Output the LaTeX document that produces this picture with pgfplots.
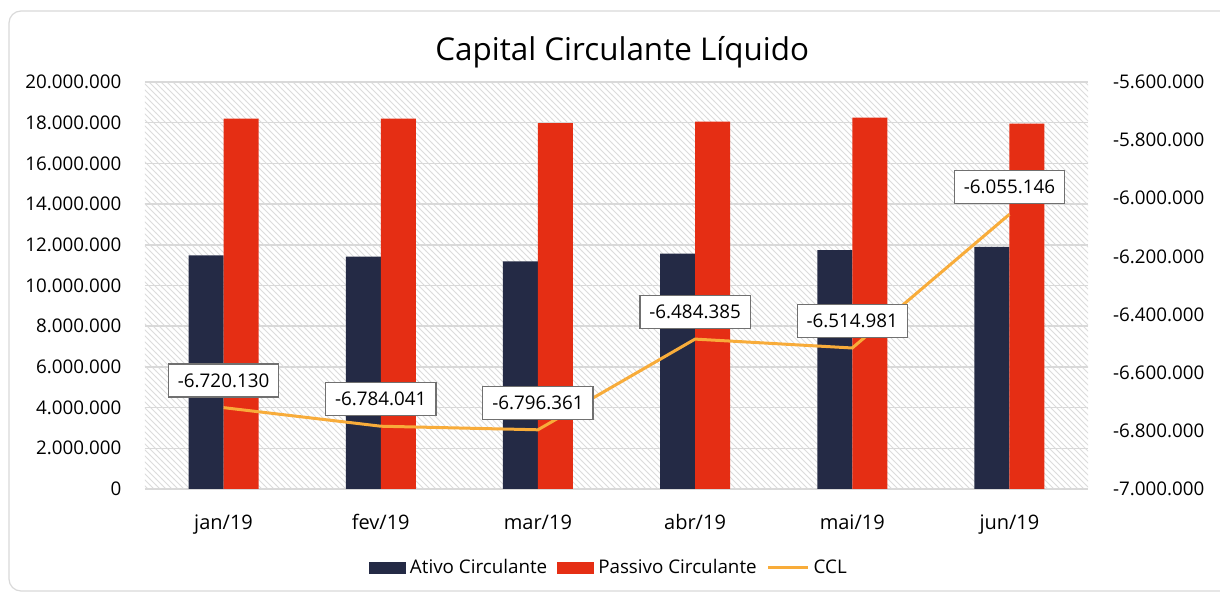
\documentclass[border=0pt]{standalone}
\usepackage{pgfplots}
\pgfplotsset{compat=1.18}
\usetikzlibrary{patterns}
\usepackage{fontspec}
\setmainfont{Open Sans}
\definecolor{ativo}{HTML}{242A45}
\definecolor{passivo}{HTML}{E52E14}
\definecolor{ccl}{HTML}{F8AC3A}
\definecolor{gridc}{HTML}{D9D9D9}
\definecolor{hatch}{HTML}{DCDCDC}
\definecolor{boxc}{HTML}{707070}
\newcommand{\tickfont}{\fontsize{9.4pt}{11pt}\selectfont}
\begin{document}
\begin{tikzpicture}
\useasboundingbox (-72.5pt,-52pt) rectangle (537.5pt,244.5pt);
\draw[gridc, line width=0.6pt, rounded corners=6pt] (-68pt,-51pt) rectangle (560pt,239pt);
\begin{axis}[
  at={(0,0)}, anchor=south west,
  scale only axis, width=471.5pt, height=203.5pt,
  xmin=-0.5, xmax=5.5, ymin=0, ymax=20000000,
  axis background/.style={fill=white, postaction={pattern=north west lines, pattern color=hatch}},
  ybar=0pt, bar width=17.5pt,
  axis x line*=bottom, axis y line*=left,
  x axis line style={gridc, line width=0.75pt, -},
  y axis line style={draw=none},
  xtick={0,1,2,3,4,5},
  xticklabels={jan/19,fev/19,mar/19,abr/19,mai/19,jun/19},
  xtick style={draw=none},
  minor xtick={-0.5,0.5,1.5,2.5,3.5,4.5,5.5},
  minor tick length=3.5pt, tick align=outside,
  minor x tick style={gridc, line width=0.75pt},
  ytick={0,2000000,4000000,6000000,8000000,10000000,12000000,14000000,16000000,18000000,20000000},
  yticklabels={0,2.000.000,4.000.000,6.000.000,8.000.000,10.000.000,12.000.000,14.000.000,16.000.000,18.000.000,20.000.000},
  scaled y ticks=false,
  ytick style={draw=none},
  ymajorgrids, grid style={gridc, line width=0.75pt},
  tick label style={font=\tickfont, text=black},
  yticklabel style={xshift=-4pt},
  xticklabel style={yshift=-5pt, font=\fontsize{10pt}{12pt}\selectfont},
  title={Capital Circulante Líquido},
  title style={font=\fontsize{15.7pt}{18pt}\selectfont, at={(0.506,1)}, anchor=center, yshift=9pt},
  legend columns=3,
  legend style={draw=none, fill=none, font=\tickfont, at={(0.493,-0.194)}, anchor=center,
    /tikz/every even column/.append style={column sep=3pt}},
]
\addplot[fill=ativo, draw=none, legend image code/.code={\fill[ativo] (0pt,-3pt) rectangle (18.5pt,3pt);}]
  coordinates {(0,11480000) (1,11420000) (2,11180000) (3,11570000) (4,11740000) (5,11900000)};
\addlegendentry{Ativo Circulante}
\addplot[fill=passivo, draw=none, legend image code/.code={\fill[passivo] (0pt,-3pt) rectangle (18.5pt,3pt);}]
  coordinates {(0,18200000) (1,18200000) (2,17980000) (3,18050000) (4,18250000) (5,17950000)};
\addlegendentry{Passivo Circulante}
\addlegendimage{legend image code/.code={\draw[ccl, line width=1.5pt] (0pt,0pt) -- (20pt,0pt);}}
\addlegendentry{CCL}
\end{axis}
\begin{axis}[
  at={(0,0)}, anchor=south west,
  scale only axis, width=471.5pt, height=203.5pt,
  xmin=-0.5, xmax=5.5, ymin=-7000000, ymax=-5600000,
  axis x line=none, axis y line*=right,
  y axis line style={draw=none},
  ytick={-7000000,-6800000,-6600000,-6400000,-6200000,-6000000,-5800000,-5600000},
  yticklabels={-7.000.000,-6.800.000,-6.600.000,-6.400.000,-6.200.000,-6.000.000,-5.800.000,-5.600.000},
  scaled y ticks=false,
  ytick style={draw=none},
  tick label style={font=\tickfont, text=black},
  yticklabel style={xshift=9pt},
  nodes near coords, point meta=explicit symbolic,
  every node near coord/.append style={font=\tickfont, text=black, draw=boxc, line width=0.6pt, fill=white,
     inner xsep=4.75pt, inner ysep=4.8pt, anchor=south, yshift=5pt},
]
\addplot[ccl, line width=1.5pt, mark=none]
  coordinates {(0,-6720130) [-6.720.130] (1,-6784041) [-6.784.041] (2,-6796361) [-6.796.361]
               (3,-6484385) [-6.484.385] (4,-6514981) [-6.514.981] (5,-6055146) [-6.055.146]};
\end{axis}
\end{tikzpicture}
\end{document}
